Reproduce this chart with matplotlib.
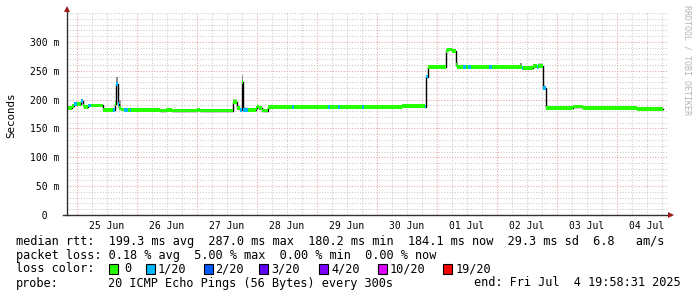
import matplotlib
matplotlib.use("Agg")
import matplotlib.pyplot as plt
import matplotlib.dates as mdates
from matplotlib.ticker import FixedLocator, FixedFormatter, MultipleLocator, FuncFormatter
from matplotlib.patches import Rectangle
from datetime import datetime

plt.rcParams['font.family'] = ['DejaVu Sans Mono']

# ---------------- data ----------------
seg_start = ["06-24 19:58", "06-24 22:00", "06-24 22:48", "06-25 00:00", "06-25 01:36",
             "06-25 02:24", "06-25 02:48", "06-25 04:24", "06-25 05:36", "06-25 10:24",
             "06-25 14:24", "06-25 15:12", "06-25 15:36", "06-25 16:24", "06-25 16:48",
             "06-25 17:36", "06-25 18:48", "06-25 20:24", "06-25 21:12", "06-25 21:36",
             "06-26 09:12", "06-26 11:36", "06-26 14:00", "06-27 00:00", "06-27 01:12",
             "06-27 14:24", "06-27 16:00", "06-27 17:12", "06-27 18:00", "06-27 18:24",
             "06-27 20:24", "06-27 23:36", "06-28 00:00", "06-28 00:48", "06-28 02:00",
             "06-28 04:24", "06-28 14:00", "06-28 14:48", "06-29 04:24", "06-29 05:12",
             "06-29 08:24", "06-29 09:12", "06-29 18:00", "06-29 18:48", "06-30 10:00",
             "06-30 19:12", "06-30 19:36", "06-30 20:24", "07-01 03:36", "07-01 04:00",
             "07-01 04:48", "07-01 06:00", "07-01 07:36", "07-01 08:00", "07-01 10:24",
             "07-01 11:36", "07-01 12:24", "07-01 13:36", "07-01 20:48", "07-01 22:00",
             "07-02 10:00", "07-02 10:24", "07-02 14:24", "07-02 16:00", "07-02 16:24",
             "07-02 18:24", "07-02 19:36", "07-03 03:36", "07-03 06:24", "07-03 10:24",
             "07-03 16:24", "07-04 08:00"]
seg_end = "07-04 18:24"
median_ms = [186, 189, 193, 192, 198,
             190, 187, 190, 190, 182,
             182, 192, 227, 192, 186,
             183, 182, 182, 182, 182,
             181, 182, 181, 182, 181,
             196, 185, 182, 230, 182,
             182, 186, 188, 185, 181,
             187, 187, 187, 187, 187,
             187, 187, 187, 187, 189,
             188, 240, 256, 284, 286,
             287, 285, 260, 256, 256,
             256, 256, 256, 256, 256,
             255, 255, 258, 257, 258,
             220, 185, 186, 188, 186,
             185, 184]
loss_count = [0, 0, 1, 0, 1,
              0, 0, 1, 0, 0,
              1, 0, 1, 1, 0,
              0, 1, 0, 1, 0,
              0, 0, 0, 0, 0,
              0, 0, 1, 0, 1,
              0, 0, 0, 0, 0,
              0, 1, 0, 1, 0,
              1, 0, 1, 0, 0,
              1, 1, 0, 0, 0,
              0, 0, 0, 0, 1,
              0, 1, 0, 1, 0,
              1, 0, 0, 1, 0,
              1, 0, 0, 0, 0,
              0, 0]

smoke_start = ["06-25 06:48", "06-25 15:12", "06-25 15:36", "06-25 16:24", "06-27 14:24",
               "06-27 18:00", "06-27 18:24", "06-28 01:12", "06-29 08:24", "06-30 10:24",
               "06-30 15:00", "07-01 07:36", "07-02 09:12", "07-02 16:24", "07-02 18:24"]
smoke_end = ["06-25 10:24", "06-25 15:36", "06-25 16:24", "06-25 17:36", "06-27 16:00",
             "06-27 18:24", "06-27 20:24", "06-28 02:00", "06-29 10:00", "06-30 12:24",
             "06-30 16:00", "07-01 08:24", "07-02 10:00", "07-02 18:00", "07-02 19:12"]
smoke_lo = [190, 192, 227, 188, 196, 230, 183, 186, 188, 189, 189, 258, 256, 258, 218]
smoke_hi = [193, 197, 240, 200, 202, 243, 187, 189, 191, 192, 191, 264, 263, 263, 225]
smoke_col = ["#dcdcdc", "#b0b0b0", "#8c8c8c", "#a8a8a8", "#c0c0c0", "#999999", "#dddddd",
             "#d8d8d8", "#c8c8c8", "#d0d0d0", "#dddddd", "#999999", "#8c8c8c", "#cccccc", "#aaaaaa"]

loss_labels = ["0", "1/20", "2/20", "3/20", "4/20", "10/20", "19/20"]
loss_colors = ["#26ff00", "#00b8ff", "#0059ff", "#5e00ff", "#7e00ff", "#dd00ff", "#ff0000"]

ytick_vals = [0, 50, 100, 150, 200, 250, 300]
ytick_labels = ["  0", " 50 m", "100 m", "150 m", "200 m", "250 m", "300 m"]

legend_line1 = "median rtt:  199.3 ms avg  287.0 ms max  180.2 ms min  184.1 ms now  29.3 ms sd  6.8   am/s"
legend_line2 = "packet loss: 0.18 % avg  5.00 % max  0.00 % min  0.00 % now"
legend_line3 = "loss color:"
legend_probe_l = "probe:"
legend_probe_m = "20 ICMP Echo Pings (56 Bytes) every 300s"
legend_end = "end: Fri Jul  4 19:58:31 2025"

t_start = datetime(2025, 6, 24, 19, 58, 31)
t_end = datetime(2025, 7, 4, 19, 58, 31)

def tp(s):
    return mdates.date2num(datetime.strptime("2025-" + s, "%Y-%m-%d %H:%M"))

# ---------------- figure ----------------
W, H = 697, 297
fig = plt.figure(figsize=(W / 100, H / 100), dpi=100)
fig.patch.set_facecolor("white")
ax_h = 350 * 0.5767
ax = fig.add_axes([67 / W, (H - 215) / H, 600 / W, ax_h / H])
ax.set_xlim(t_start, t_end)
ax.set_ylim(0, 350)
for s in ax.spines.values():
    s.set_visible(False)

# grids
ax.yaxis.set_major_locator(FixedLocator(ytick_vals))
ax.yaxis.set_major_formatter(FixedFormatter(ytick_labels))
ax.yaxis.set_minor_locator(MultipleLocator(10))
ax.xaxis.set_major_locator(mdates.DayLocator())
ax.xaxis.set_major_formatter(FuncFormatter(lambda v, p: ""))
ax.xaxis.set_minor_locator(mdates.HourLocator(byhour=[6, 12, 18]))
ax.xaxis.set_minor_formatter(FuncFormatter(
    lambda v, p: mdates.num2date(v).strftime("%d %b") if mdates.num2date(v).hour == 12 else ""))
ax.grid(which="minor", color="#c8c8c8", linestyle=(0, (1, 1.6)), linewidth=0.75)
ax.grid(which="major", color="#e8a0a0", linestyle=(0, (1, 1.6)), linewidth=0.75)
ax.set_axisbelow(True)
ax.tick_params(which="both", length=0, labelsize=7, colors="#000000")
ax.tick_params(axis="x", which="minor", pad=4)
ax.tick_params(axis="y", pad=26.5)
for lbl in ax.get_yticklabels():
    lbl.set_horizontalalignment("left")

# smoke
for s0, s1, lo, hi, c in zip(smoke_start, smoke_end, smoke_lo, smoke_hi, smoke_col):
    ax.bar(tp(s0), hi - lo, bottom=lo, width=tp(s1) - tp(s0), align="edge",
           color=c, linewidth=0, zorder=2)

# median line
xs = [tp(s) for s in seg_start] + [tp(seg_end)]
ys = median_ms + [median_ms[-1]]
ax.step(xs, ys, where="post", color="black", linewidth=1.0, zorder=3)

# loss coloured band
band = 6.5
for i, v in enumerate(median_ms):
    ax.bar(xs[i], band, bottom=v - band / 2, width=xs[i + 1] - xs[i], align="edge",
           color=loss_colors[loss_count[i]], linewidth=0, zorder=4)

# axes lines with arrows
axis_col = "#303030"
arrow_col = "#9b1b1b"
ytop = (215 - 9) / ax_h
ax.plot([0, 0], [0, ytop], transform=ax.transAxes, color=axis_col, lw=1, clip_on=False, zorder=5)
ax.plot([-4 / 600, 604 / 600], [0, 0], transform=ax.transAxes, color=axis_col, lw=1, clip_on=False, zorder=5)
ax.plot([0], [ytop], marker="^", markersize=4.5, color=arrow_col, transform=ax.transAxes,
        clip_on=False, zorder=6, markeredgewidth=0)
ax.plot([604 / 600], [0], marker=">", markersize=4.5, color=arrow_col, transform=ax.transAxes,
        clip_on=False, zorder=6, markeredgewidth=0)

def fx(x):
    return x / W

def fy(y):
    return 1 - y / H

fig.text(fx(11), fy(115), "Seconds", rotation=90, ha="center", va="center", fontsize=7.8)
fig.text(fx(687), fy(60), "RRDTOOL / TOBI OETIKER", rotation=270, ha="center", va="center",
         fontsize=6, color="#b4b4b4")

lfs = 8.55
fig.text(fx(16), fy(241), legend_line1, ha="left", va="center", fontsize=lfs)
fig.text(fx(16), fy(255.5), legend_line2, ha="left", va="center", fontsize=lfs)
fig.text(fx(16), fy(269), legend_line3, ha="left", va="center", fontsize=lfs)
box_x = [109, 146, 204, 259, 319, 378, 443]
lab_x = [124, 158, 215, 271, 331, 390, 456]
for bx, lx, lab, col in zip(box_x, lab_x, loss_labels, loss_colors):
    fig.patches.append(Rectangle((fx(bx), fy(274)), 9 / W, 10 / H, transform=fig.transFigure,
                                 facecolor=col, edgecolor="black", linewidth=0.8))
    fig.text(fx(lx), fy(269), lab, ha="left", va="center", fontsize=lfs)
fig.text(fx(16), fy(283), legend_probe_l, ha="left", va="center", fontsize=lfs)
fig.text(fx(107.5), fy(283), legend_probe_m, ha="left", va="center", fontsize=lfs)
fig.text(fx(681), fy(283), legend_end, ha="right", va="center", fontsize=lfs)

fig.savefig("out.png", dpi=100, facecolor="white")
